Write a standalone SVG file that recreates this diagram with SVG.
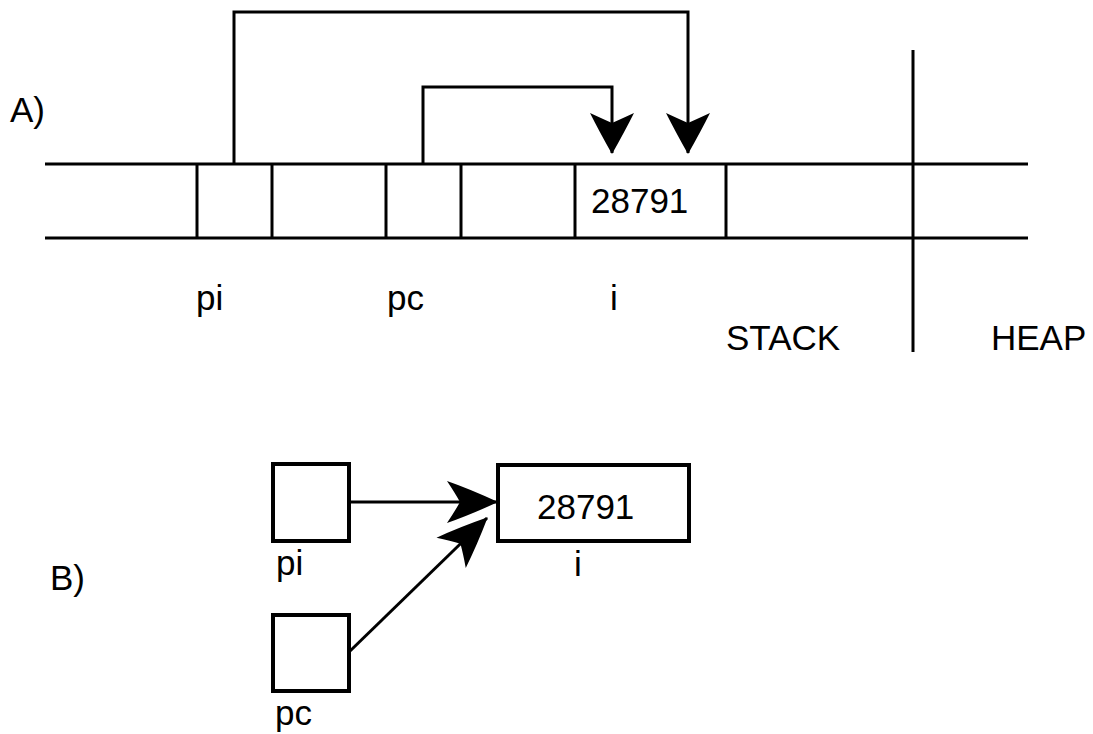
<svg xmlns="http://www.w3.org/2000/svg" width="1093" height="734" viewBox="0 0 1093 734">
<style>
.ln{stroke:#000;stroke-width:3;fill:none}
.bx{stroke:#000;stroke-width:4;fill:#fff}
.t{font-family:"Liberation Sans",Arial,sans-serif;font-size:35px;fill:#000}
</style>
<defs>
<marker id="ah" markerUnits="userSpaceOnUse" viewBox="-46 -25 50 50" markerWidth="50" markerHeight="50" refX="0" refY="0" orient="auto">
<path d="M1,0 Q-22,-13 -40,-22 Q-34,-9 -30,0 Q-34,9 -40,22 Q-22,13 1,0 Z" fill="#000"/>
</marker>
<marker id="ahb" markerUnits="userSpaceOnUse" viewBox="-56 -25 60 50" markerWidth="60" markerHeight="50" refX="0" refY="0" orient="auto">
<path d="M1,0 Q-27,-13 -50,-21 Q-42,-9 -37,0 Q-42,9 -50,21 Q-27,13 1,0 Z" fill="#000"/>
</marker>
</defs>
<rect width="1093" height="734" fill="#fff"/>
<text class="t" x="10" y="122">A)</text>
<text class="t" x="50" y="590">B)</text>
<g id="stack">
<line class="ln" x1="45" y1="164" x2="1028" y2="164"/>
<line class="ln" x1="45" y1="238" x2="1028" y2="238"/>
<line class="ln" x1="913" y1="50" x2="913" y2="352"/>
<text class="t" x="726" y="350">STACK</text>
<text class="t" x="991" y="350">HEAP</text>
</g>
<g id="cell-pi">
<line class="ln" x1="197" y1="164" x2="197" y2="238"/>
<line class="ln" x1="272" y1="164" x2="272" y2="238"/>
<text class="t" x="196" y="310">pi</text>
</g>
<g id="cell-pc">
<line class="ln" x1="386" y1="164" x2="386" y2="238"/>
<line class="ln" x1="461" y1="164" x2="461" y2="238"/>
<text class="t" x="387" y="310">pc</text>
</g>
<g id="cell-i">
<line class="ln" x1="575" y1="164" x2="575" y2="238"/>
<line class="ln" x1="726" y1="164" x2="726" y2="238"/>
<text class="t" x="591" y="213">28791</text>
<text class="t" x="610" y="310">i</text>
</g>
<g id="b-pi">
<rect class="bx" x="273" y="464" width="76" height="77"/>
<text class="t" x="276" y="575">pi</text>
</g>
<g id="b-pc">
<rect class="bx" x="273" y="615" width="76" height="76"/>
<text class="t" x="275" y="725">pc</text>
</g>
<g id="b-i">
<rect class="bx" x="498" y="465" width="191" height="76"/>
<text class="t" x="537" y="519">28791</text>
<text class="t" x="574" y="576">i</text>
</g>
<g id="connectors">
<path class="ln" d="M234,164 V12 H688 V153" marker-end="url(#ah)"/>
<path class="ln" d="M423,164 V87 H612 V153" marker-end="url(#ah)"/>
<path class="ln" d="M349,502 H497" marker-end="url(#ahb)"/>
<path class="ln" d="M349,652 L487,518" marker-end="url(#ahb)"/>
</g>
</svg>
